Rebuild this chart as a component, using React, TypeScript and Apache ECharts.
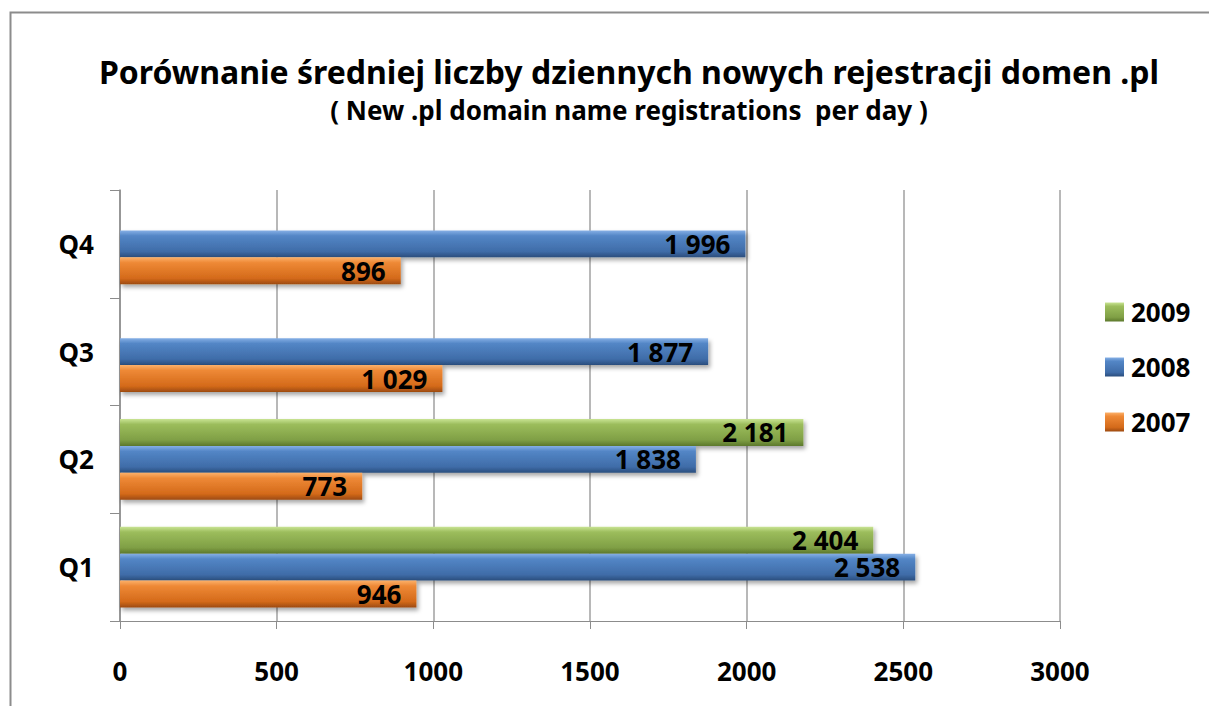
import React, { useEffect, useRef } from "react";
import * as echarts from "echarts";

const categories = ["Q1", "Q2", "Q3", "Q4"];
const seriesNames = ["2009", "2008", "2007"];
const values2007 = [946, 773, 1029, 896];
const values2008 = [2538, 1838, 1877, 1996];
const values2009: (number | null)[] = [2404, 2181, null, null];
const xTicks = [0, 500, 1000, 1500, 2000, 2500, 3000];

const FONT = "'Noto Sans', 'Open Sans', sans-serif";

const fmt = (v: number) => String(v).replace(/\B(?=(\d{3})+(?!\d))/g, " ");

const grad = (top: string, mid: string, low: string, bottom: string) =>
  new echarts.graphic.LinearGradient(0, 0, 0, 1, [
    { offset: 0, color: top },
    { offset: 0.2, color: mid },
    { offset: 0.78, color: low },
    { offset: 1, color: bottom },
  ]);

export default function App() {
  const ref = useRef<HTMLDivElement>(null);
  useEffect(() => {
    document.body.style.margin = "0";
    const chart = echarts.init(ref.current!, null, { renderer: "svg" });
    const mk = (name: string, data: (number | null)[], color: any) => ({
      name,
      type: "bar",
      data,
      barGap: "0%",
      barCategoryGap: "25%",
      itemStyle: {
        color,
        shadowBlur: 4,
        shadowOffsetX: 2,
        shadowOffsetY: 3,
        shadowColor: "rgba(0,0,0,0.35)",
      },
      label: {
        show: true,
        position: "insideRight",
        distance: 15,
        formatter: (p: any) => fmt(p.value),
        color: "#000",
        fontFamily: FONT,
        fontWeight: "bold",
        fontSize: 26,
        padding: [3, 0, 0, 0],
      },
    });
    chart.setOption({
      animation: false,
      backgroundColor: "#fff",
      title: {
        text: "Porównanie średniej liczby dziennych nowych rejestracji domen .pl",
        subtext: "( New .pl domain name registrations  per day )",
        left: 624,
        textAlign: "center",
        top: 50,
        itemGap: 10,
        textStyle: { fontFamily: FONT, fontWeight: "bold", fontSize: 32, color: "#000" },
        subtextStyle: { fontFamily: FONT, fontWeight: "bold", fontSize: 26, color: "#000" },
      },
      graphic: [
        {
          type: "rect",
          shape: { x: 10.5, y: 12.5, width: 1220, height: 720 },
          style: { fill: "none", stroke: "#8c8c8c", lineWidth: 2 },
          silent: true,
          z: -1,
        },
      ],
      legend: {
        orient: "vertical",
        left: 1100,
        top: 294,
        itemWidth: 19,
        itemHeight: 19,
        itemGap: 29,
        icon: "rect",
        data: ["2009", "2008", "2007"],
        textStyle: { fontFamily: FONT, fontWeight: "bold", fontSize: 26, color: "#000", padding: [0, 0, 0, 2] },
      },
      grid: { left: 120, right: 149, top: 190, bottom: 85, containLabel: false },
      xAxis: {
        type: "value",
        min: 0,
        max: 3000,
        interval: 500,
        axisLine: { show: true, lineStyle: { color: "#8c8c8c", width: 1 } },
        axisTick: { show: true, length: 8, lineStyle: { color: "#8c8c8c" } },
        splitLine: { show: true, lineStyle: { color: "#a0a0a0", width: 1.5 } },
        axisLabel: {
          margin: 37,
          color: "#000",
          fontFamily: FONT,
          fontWeight: "bold",
          fontSize: 26,
          formatter: (v: number) => (xTicks.includes(v) ? String(v) : ""),
        },
      },
      yAxis: {
        type: "category",
        data: categories,
        axisLine: { show: true, lineStyle: { color: "#8c8c8c", width: 1.5 } },
        axisTick: { show: true, length: 10, lineStyle: { color: "#8c8c8c" } },
        axisLabel: {
          margin: 26,
          color: "#000",
          fontFamily: FONT,
          fontWeight: "bold",
          fontSize: 26,
          padding: [10, 0, 0, 0],
        },
      },
      series: [
        mk(seriesNames[0], values2009, grad("#c9e494", "#9cbd5c", "#7f9f45", "#5c782c")),
        mk(seriesNames[1], values2008, grad("#86b0e6", "#5386c6", "#3f6ca8", "#2a4d7c")),
        mk(seriesNames[2], values2007, grad("#fcb06a", "#ee8936", "#d46a1a", "#9c4a10")),
      ],
    });
    return () => chart.dispose();
  }, []);
  return <div ref={ref} style={{ width: 1209, height: 706 }} />;
}
